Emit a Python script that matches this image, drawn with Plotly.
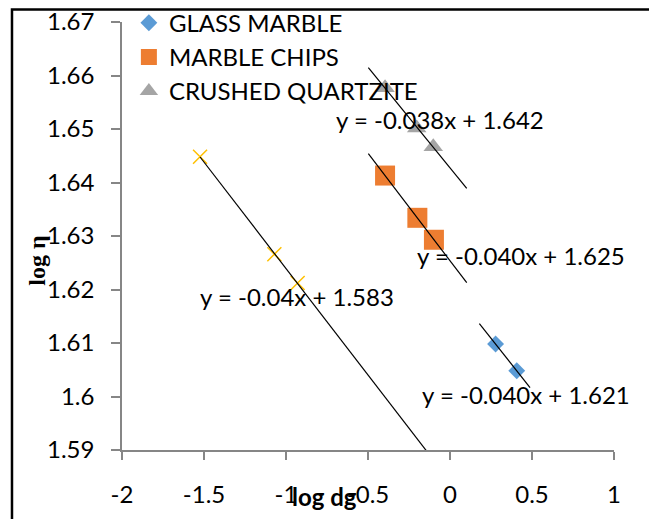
import numpy as np
import plotly.graph_objects as go

# log dg / log eta readings for each bed material
glass_x = [0.278, 0.407]
glass_y = [1.6098, 1.6048]
chips_x = [-0.396, -0.199, -0.098]
chips_y = [1.6413, 1.6334, 1.6293]
quartz_x = [-0.396, -0.203, -0.102]
quartz_y = [1.6577, 1.6502, 1.6467]
other_x = [-1.524, -1.071, -0.929]
other_y = [1.6448, 1.6266, 1.6212]

# trendline extents (x) and printed equations
glass_fit_x = [0.179, 0.488]
chips_fit_x = [-0.498, 0.102]
quartz_fit_x = [-0.498, 0.102]
other_fit_x = [-1.524, 0.0]
glass_eq = "y = -0.040x + 1.621"
chips_eq = "y = -0.040x + 1.625"
quartz_eq = "y = -0.038x + 1.642"
other_eq = "y = -0.04x + 1.583"

x_ticks = [-2, -1.5, -1, -0.5, 0, 0.5, 1]
x_tick_text = ["-2", "-1.5", "-1", "-0.5", "0", "0.5", "1"]
y_ticks = [1.59, 1.60, 1.61, 1.62, 1.63, 1.64, 1.65, 1.66, 1.67]
y_tick_text = ["1.59", "1.6", "1.61", "1.62", "1.63", "1.64", "1.65", "1.66", "1.67"]

FONT = "Lato"
AXIS_GREY = "#868686"

fig = go.Figure()

series = [
    ("GLASS MARBLE", glass_x, glass_y, glass_fit_x,
     dict(symbol="diamond", size=13, color="#5B9BD5"), True),
    ("MARBLE CHIPS", chips_x, chips_y, chips_fit_x,
     dict(symbol="square", size=20, color="#ED7D31"), True),
    ("CRUSHED QUARTZITE", quartz_x, quartz_y, quartz_fit_x,
     dict(symbol="triangle-up", size=17, color="#A5A5A5"), True),
    ("", other_x, other_y, other_fit_x,
     dict(symbol="x-thin-open", size=14, color="#FFC000",
          line=dict(color="#FFC000", width=1.5)), False),
]

for name, xs, ys, fit_x, marker, show in series:
    fig.add_trace(go.Scatter(
        x=xs, y=ys, mode="markers", name=name, marker=marker,
        showlegend=show, cliponaxis=False,
    ))
    # linear trendline, as excel fits it
    m, b = np.polyfit(xs, ys, 1)
    fx = np.array(fit_x)
    fig.add_trace(go.Scatter(
        x=fx, y=m * fx + b, mode="lines", showlegend=False,
        line=dict(color="black", width=1.2), hoverinfo="skip",
    ))

# equation labels (x, y in data units)
label_pos = [(quartz_eq, -0.058, 1.6517), (chips_eq, 0.433, 1.6263),
             (other_eq, -0.930, 1.6187), (glass_eq, 0.463, 1.6003)]
for text, lx, ly in label_pos:
    fig.add_annotation(x=lx, y=ly, text=text, showarrow=False,
                       font=dict(family=FONT, size=24, color="black"))

# axis titles sit where excel left them
fig.add_annotation(xref="paper", yref="paper", x=0.4126, y=-0.1075,
                   xanchor="center", yanchor="middle",
                   text="<b>log dg</b>", showarrow=False,
                   font=dict(family=FONT, size=24, color="black"))
fig.add_annotation(xref="paper", yref="paper", x=-0.173, y=0.442,
                   xanchor="center", yanchor="middle",
                   text="<b>log η</b>", showarrow=False, textangle=-90,
                   font=dict(family="Liberation Serif", size=24, color="black"))

# chart frame
fig.add_shape(type="rect", xref="paper", yref="paper",
              x0=-0.2236, x1=1.0772, y0=-0.187, y1=1.029,
              line=dict(color="black", width=2.5), layer="above")

# page body adds an 8px offset, so the figure is 8px smaller
fig.update_layout(
    width=649, height=511,
    margin=dict(l=114, r=43, t=14, b=69, autoexpand=False),
    paper_bgcolor="white", plot_bgcolor="white",
    font=dict(family=FONT, size=24, color="black"),
    legend=dict(x=0.014, y=1.05, xanchor="left", yanchor="top",
                bgcolor="rgba(0,0,0,0)", font=dict(size=24)),
    xaxis=dict(range=[-2, 1], tickvals=x_ticks, ticktext=x_tick_text,
               showgrid=False, zeroline=False, showline=True, automargin=False,
               linecolor=AXIS_GREY, linewidth=1.5, ticks="outside",
               ticklen=8, tickcolor=AXIS_GREY, tickwidth=1.5,
               ticklabelstandoff=14, ticklabeloverflow="allow"),
    yaxis=dict(range=[1.59, 1.67], tickvals=y_ticks, ticktext=y_tick_text,
               showgrid=False, zeroline=False, showline=True, automargin=False,
               linecolor=AXIS_GREY, linewidth=1.5, ticks="outside",
               ticklen=9, tickcolor=AXIS_GREY, tickwidth=1.5,
               ticklabelstandoff=12, ticklabeloverflow="allow"),
)

fig.write_html("out.html")
